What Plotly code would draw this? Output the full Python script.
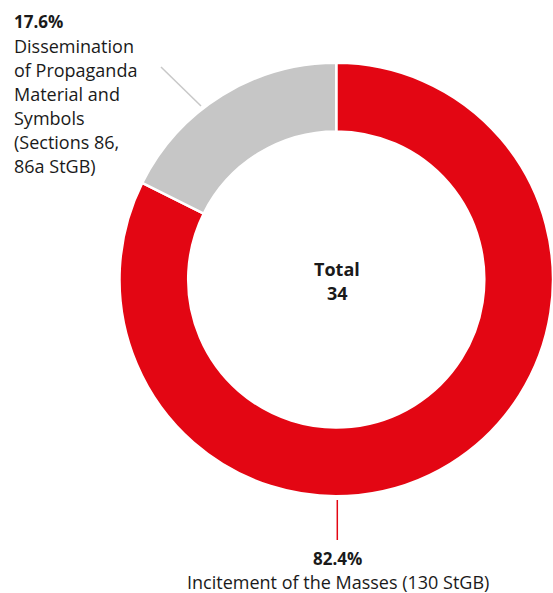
import plotly.graph_objects as go

W, H = 553, 593
OFF = 0  # body margin removed via post_script

categories = ["Incitement of the Masses (130 StGB)",
              "Dissemination of Propaganda Material and Symbols (Sections 86, 86a StGB)"]
values = [28, 6]
colors = ["#E30613", "#C6C6C6"]
small_label_lines = ["Dissemination", "of Propaganda", "Material and",
                     "Symbols", "(Sections 86,", "86a StGB)"]
big_label = "Incitement of the Masses (130 StGB)"

total = sum(values)
pcts = [v / total * 100 for v in values]

FONT = "Open Sans"
TXT = "#1a1a1a"


def px(x):
    return (x - OFF) / W


def py(y):
    return 1 - (y - OFF) / H


CX, CY, R = 337.3, 279.5, 217.8

fig = go.Figure()
fig.add_trace(go.Pie(
    labels=categories, values=values, sort=False, direction="clockwise",
    rotation=0, hole=0.683, textinfo="none", hoverinfo="label+value+percent",
    marker=dict(colors=colors, line=dict(color="white", width=2.5)),
    domain=dict(x=[px(CX - R), 1.0], y=[py(CY + R), py(CY - R)]),
    showlegend=False,
))

annotations = []


def add_text(x, baseline, text, size, anchor="left", bold=False):
    t = f"<b>{text}</b>" if bold else text
    annotations.append(dict(
        x=px(x), y=py(baseline - 0.36 * size), xref="paper", yref="paper",
        xanchor=anchor, yanchor="middle", text=t, showarrow=False,
        font=dict(family=FONT, size=size, color=TXT)))


# centre total
add_text(CX, 275, "Total", 18, anchor="center", bold=True)
add_text(CX, 299, str(total), 18, anchor="center", bold=True)

# grey slice label (top-left)
add_text(12, 27.7, f"{pcts[1]:.1f}%", 17, bold=True)
for i, line in enumerate(small_label_lines):
    add_text(12, 52.7 + 24 * i, line, 18)

# red slice label (bottom)
add_text(CX, 564.5, f"{pcts[0]:.1f}%", 17, anchor="center", bold=True)
add_text(CX + 1, 588, big_label, 18, anchor="center")

shapes = [
    dict(type="line", xref="paper", yref="paper", x0=px(161), y0=py(67), x1=px(201), y1=py(106),
         line=dict(color="#C8C8C8", width=1.5)),
    dict(type="line", xref="paper", yref="paper", x0=px(CX), y0=py(500), x1=px(CX), y1=py(540),
         line=dict(color="#E30613", width=1.5)),
]

fig.update_layout(width=W, height=H, margin=dict(l=0, r=0, t=0, b=0),
                  paper_bgcolor="white", plot_bgcolor="white",
                  annotations=annotations, shapes=shapes)
fig.write_html("out.html", config={"displayModeBar": False},
               post_script="document.body.style.margin='0';document.body.style.overflow='hidden';")
